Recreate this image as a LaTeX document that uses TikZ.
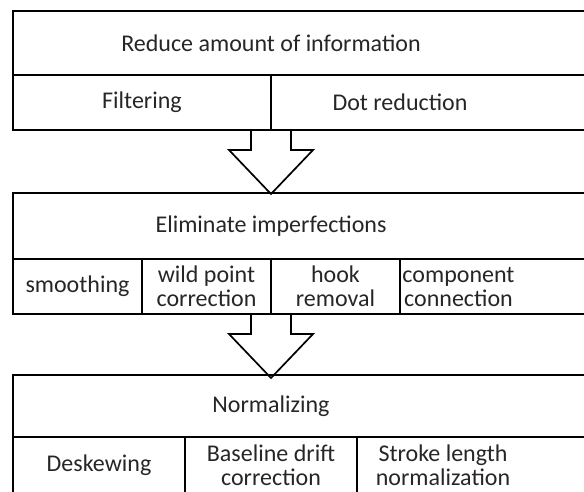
\documentclass[tikz,border=0pt]{standalone}
\usepackage{fontspec}
\setmainfont{Carlito}
\usetikzlibrary{positioning}

\tikzset{
  cell/.style={minimum height=55pt, inner sep=0pt, outer sep=0pt, align=center,
               font=\fontsize{24}{24}\selectfont, text=black!85},
  frame/.style={line width=2pt, line cap=rect},
  blockarrow/.style={line width=1.7pt, line join=miter}
}

\begin{document}
\begin{tikzpicture}[x=1pt, y=-1pt]                 % y runs downwards, 1pt = 1px
    \useasboundingbox (0,0) rectangle (584,491);
    \clip (0,0) rectangle (584,491);

    % first stage
    \node[cell, minimum width=516pt, minimum height=64pt] (reduce) at (271,43) {Reduce amount of information};
    \node[cell, minimum width=258pt, anchor=north west] (filter) at (reduce.south west) {Filtering};
    \node[cell, minimum width=258pt, right=0pt of filter] (dotred) {Dot reduction};
    \draw[frame] ([xshift=80pt]reduce.north east) -| (filter.south west) -- ([xshift=80pt]dotred.south east);
    \draw[frame] (reduce.south west) -- ++(600,0);
    \draw[frame] (filter.north east) -- (filter.south east);

    % arrow down
    \draw[blockarrow] (filter.south east) ++(-20,0) -- ++(0,20) -- ++(-22,0) -- ++(42,44) -- ++(42,-44) -- ++(-22,0) -- ++(0,-20);

    % second stage
    \node[cell, minimum width=516pt, minimum height=66pt] (elim) at (271,226) {Eliminate imperfections};
    \node[cell, minimum width=129pt, anchor=north west] (smooth) at (elim.south west) {smoothing};
    \node[cell, minimum width=129pt, right=0pt of smooth] (wild) {wild point\\correction};
    \node[cell, minimum width=129pt, right=0pt of wild] (hook) {hook\\removal};
    \node[cell, minimum width=117pt, right=0pt of hook] (comp) {component\\connection};
    \draw[frame] ([xshift=80pt]elim.north east) -| (smooth.south west) -- ([xshift=80pt]comp.south east);
    \draw[frame] (elim.south west) -- ++(600,0);
    \foreach \c in {smooth,wild,hook}
        \draw[frame] (\c.north east) -- (\c.south east);

    % arrow down
    \draw[blockarrow] (wild.south east) ++(-20,0) -- ++(0,20) -- ++(-22,0) -- ++(42,44) -- ++(42,-44) -- ++(-22,0) -- ++(0,-20);

    % third stage
    \node[cell, minimum width=516pt, minimum height=62pt] (norm) at (271,406) {Normalizing};
    \node[cell, minimum width=172pt, minimum height=56pt, anchor=north west] (deskew) at (norm.south west) {Deskewing};
    \node[cell, minimum width=172pt, minimum height=56pt, right=0pt of deskew] (drift) {Baseline drift\\correction};
    \node[cell, minimum width=172pt, minimum height=56pt, right=0pt of drift] (stroke) {Stroke length\\normalization};
    \draw[frame] ([xshift=80pt]norm.north east) -| (deskew.south west) -- ([xshift=80pt]stroke.south east);
    \draw[frame] (norm.south west) -- ++(600,0);
    \foreach \c in {deskew,drift}
        \draw[frame] (\c.north east) -- (\c.south east);
\end{tikzpicture}
\end{document}
